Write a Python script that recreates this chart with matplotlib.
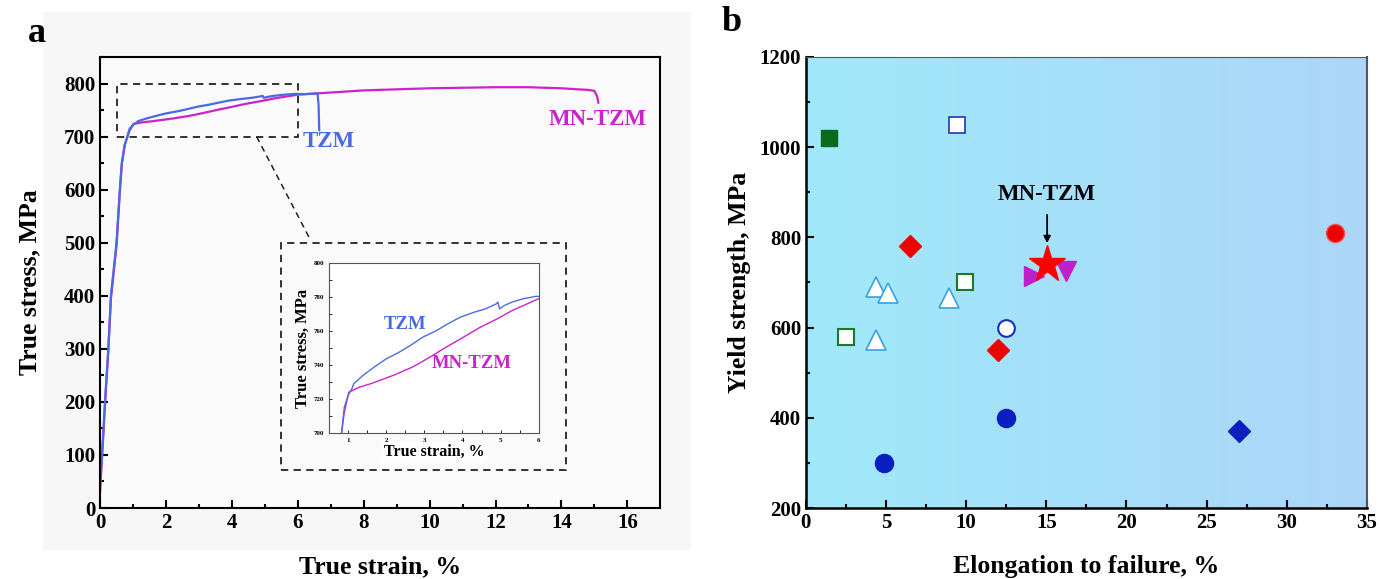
import matplotlib.pyplot as plt
import matplotlib.patches as mpatches
import numpy as np

plt.rcParams['font.family'] = ['Liberation Serif', 'DejaVu Serif']
plt.rcParams['font.weight'] = 'bold'

# panel a: true stress-strain curves
tzm_strain = [0, 0.06, 0.15, 0.25, 0.33, 0.5, 0.6, 0.66, 0.75, 0.83, 0.9, 1.0, 1.1, 1.15,
              1.4, 1.7, 2.0, 2.3, 2.6, 2.97, 3.3, 3.6, 3.93, 4.3, 4.6, 4.89, 4.93, 4.97,
              5.1, 5.3, 5.6, 5.93, 6.2, 6.5, 6.6, 6.63, 6.65]
tzm_stress = [40, 100, 200, 300, 400, 500, 600, 650, 685, 700, 715, 722, 726, 729,
              734, 739, 743.6, 747, 751, 756.5, 760, 764, 768, 771, 773, 776, 777, 773,
              775, 777, 779, 780.4, 780, 781, 781, 760, 712]

mn_strain = [0, 0.06, 0.15, 0.25, 0.33, 0.5, 0.6, 0.66, 0.75, 0.83, 0.9, 1.02, 1.3, 1.6,
             1.84, 2.2, 2.71, 3.1, 3.58, 4.0, 4.45, 4.9, 5.3, 5.7, 6.0, 6.5, 7, 7.5, 8,
             9, 10, 11, 12, 13, 13.5, 14, 14.5, 14.8, 15.0, 15.08, 15.12]
mn_stress = [30, 95, 195, 295, 395, 495, 595, 648, 684, 700, 712, 724, 727, 729,
             731, 734, 739, 744, 750.6, 756, 762, 767, 772, 776, 779, 781, 783, 785, 787,
             789, 791, 792, 793, 793, 792, 791, 789, 788, 786, 776, 764]

# panel b: yield strength vs elongation
fill_sq_x, fill_sq_y = [1.45], [1020]
green_sq_x, green_sq_y = [2.5, 9.9], [580, 700]
blue_sq_x, blue_sq_y = [9.4], [1050]
red_dia_x, red_dia_y = [6.5, 12.0], [780, 550]
tri_x, tri_y = [4.4, 5.1, 8.9, 4.4], [690, 676, 665, 572]
open_circ_x, open_circ_y = [12.5], [600]
blue_circ_x, blue_circ_y = [4.9, 12.5], [300, 400]
blue_dia_x, blue_dia_y = [27.0], [370]
red_circ_x, red_circ_y = [33.0], [810]
tri_r_x, tri_r_y = [14.2], [714]
tri_d_x, tri_d_y = [16.25], [725]
star_x, star_y = [15.05], [742]

blue = '#4a6be0'
mag = '#cc22cc'

fig = plt.figure(figsize=(13.8, 5.79), dpi=100)
fig.patches.append(mpatches.Rectangle((0.031, 0.05), 0.47, 0.93, transform=fig.transFigure,
                                      facecolor='#f7f7f7', edgecolor='none', zorder=-10))

# ---------- a ----------
ax = fig.add_axes([0.0725, 0.1226, 0.406, 0.779])
ax.set_facecolor('#fafafa')
ax.plot(mn_strain, mn_stress, color=mag, lw=1.6)
ax.plot(tzm_strain, tzm_stress, color=blue, lw=1.6)
ax.set_xlim(0, 17)
ax.set_ylim(0, 850)
ax.set_xticks(np.arange(0, 17, 2))
ax.set_xticks(np.arange(0, 17, 1), minor=True)
ax.set_yticks(np.arange(0, 801, 100))
ax.set_yticks(np.arange(0, 851, 50), minor=True)
ax.tick_params(direction='in', which='both', labelsize=15, width=1.5)
ax.tick_params(which='major', length=6)
ax.tick_params(which='minor', length=3)
for s in ax.spines.values():
    s.set_linewidth(1.5)
ax.set_xlabel('True strain, %', fontsize=18.5, fontweight='bold', labelpad=16)
ax.set_ylabel('True stress, MPa', fontsize=18.5, fontweight='bold', labelpad=16)
ax.text(6.15, 690, 'TZM', color=blue, fontsize=16.5, fontweight='bold', ha='left', va='center')
ax.text(15.1, 733, 'MN-TZM', color=mag, fontsize=16.5, fontweight='bold', ha='center', va='center')

ax.add_patch(mpatches.Rectangle((0.52, 700), 5.5, 100, fill=False, ls=(0, (4, 3)), lw=1.3, ec='#222222'))
ax.add_patch(mpatches.Rectangle((5.5, 72), 8.65, 427, fill=False, ls=(0, (4, 3)), lw=1.3, ec='#222222'))
ax.plot([4.75, 6.36], [700, 508], ls=(0, (4, 3)), lw=1.1, color='#222222')

ins = fig.add_axes([0.2384, 0.2522, 0.152, 0.2936])
ins.plot(mn_strain, mn_stress, color=mag, lw=1.0)
ins.plot(tzm_strain, tzm_stress, color=blue, lw=1.0)
ins.set_xlim(0.5, 6)
ins.set_ylim(700, 800)
ins.set_xticks(range(1, 7))
ins.set_xticks(np.arange(0.5, 6.01, 0.5), minor=True)
ins.set_yticks(range(700, 801, 20))
ins.set_yticks(range(700, 801, 10), minor=True)
ins.tick_params(direction='in', which='both', labelsize=5, length=2, width=0.6)
for s in ins.spines.values():
    s.set_linewidth(0.8)
    s.set_color('#555555')
ins.set_xlabel('True strain, %', fontsize=11.5, fontweight='bold', labelpad=1,
               bbox=dict(facecolor='white', edgecolor='none', pad=2))
ins.set_ylabel('True stress, MPa', fontsize=12, fontweight='bold', labelpad=2)
ins.text(2.49, 764, 'TZM', color=blue, fontsize=13.5, fontweight='bold', ha='center', va='center')
ins.text(4.25, 741, 'MN-TZM', color=mag, fontsize=13.5, fontweight='bold', ha='center', va='center')

fig.text(0.027, 0.943, 'a', fontsize=26, fontweight='bold', ha='center', va='center')

# ---------- b ----------
bx = fig.add_axes([0.584, 0.1226, 0.4065, 0.779])
grad = np.linspace(0, 1, 256)
c0 = np.array([160, 233, 250]) / 255
c1 = np.array([172, 214, 248]) / 255
img = c0[None, None, :] * (1 - grad[None, :, None]) + c1[None, None, :] * grad[None, :, None]
bx.imshow(img, extent=[0, 35, 200, 1200], aspect='auto', zorder=0)

bx.plot(fill_sq_x, fill_sq_y, 's', ms=12, color='#0b6b1c', mec='#0b6b1c', zorder=3)
bx.plot(green_sq_x, green_sq_y, 's', ms=12, mfc='white', mec='#1a7a2a', mew=1.5, zorder=3)
bx.plot(blue_sq_x, blue_sq_y, 's', ms=12, mfc='white', mec='#2233bb', mew=1.2, zorder=3)
bx.plot(red_dia_x, red_dia_y, 'D', ms=11, color='#ee0000', zorder=3)
bx.plot(tri_x, tri_y, '^', ms=14, mfc='white', mec='#3aa0e0', mew=1.2, zorder=3)
bx.plot(open_circ_x, open_circ_y, 'o', ms=12, mfc='white', mec='#1a2dbb', mew=1.5, zorder=3)
bx.plot(blue_circ_x, blue_circ_y, 'o', ms=13, color='#0a1fc0', zorder=3)
bx.plot(blue_dia_x, blue_dia_y, 'D', ms=11, color='#0a1fc0', zorder=3)
bx.plot(red_circ_x, red_circ_y, 'o', ms=13, color='#ee0000', mec='#f05050', zorder=3)
bx.plot(tri_r_x, tri_r_y, '>', ms=15, color='#c020c8', zorder=3)
bx.plot(tri_d_x, tri_d_y, 'v', ms=15, color='#c020c8', zorder=3)
bx.plot(star_x, star_y, '*', ms=28, color='#ff0000', zorder=4)
bx.annotate('', xy=(15.05, 781), xytext=(15.05, 856),
            arrowprops=dict(arrowstyle='-|>', color='black', lw=1.3, mutation_scale=10))
bx.text(15.05, 894, 'MN-TZM', fontsize=16.5, fontweight='bold', ha='center', va='center')

bx.set_xlim(0, 35)
bx.set_ylim(200, 1200)
bx.set_xticks(np.arange(0, 36, 5))
bx.set_xticks(np.arange(0, 36, 2.5), minor=True)
bx.set_yticks(np.arange(200, 1201, 200))
bx.set_yticks(np.arange(200, 1201, 100), minor=True)
bx.set_xticklabels(['0', '5', '10', '15', '20', '25', '30', '35'])
bx.tick_params(direction='in', which='both', labelsize=15, width=1.5, top=False, right=False)
bx.tick_params(which='major', length=6)
bx.tick_params(which='minor', length=3)
bx.spines['left'].set_linewidth(1.8)
bx.spines['bottom'].set_linewidth(1.8)
bx.spines['top'].set_color('#555555')
bx.spines['right'].set_color('#555555')
bx.spines['right'].set_linewidth(1.5)
bx.set_xlabel('Elongation to failure, %', fontsize=18.5, fontweight='bold', labelpad=16)
bx.set_ylabel('Yield strength, MPa', fontsize=18.5, fontweight='bold', labelpad=6)

fig.text(0.53, 0.962, 'b', fontsize=26, fontweight='bold', ha='center', va='center')

plt.savefig('out.png', dpi=100)
